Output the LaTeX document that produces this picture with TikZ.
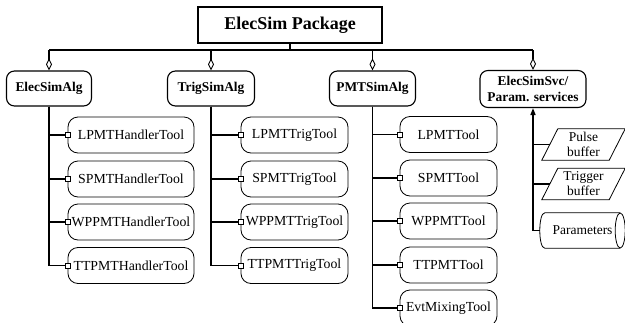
\documentclass[tikz,border=0pt]{standalone}
\usepackage{fontspec}
\setmainfont{Liberation Serif}
\usetikzlibrary{arrows.meta}
\begin{document}
\begin{tikzpicture}[x=1pt,y=-1pt,
  pkgbox/.style={draw,line width=1.2pt,minimum width=184pt,minimum height=36pt,inner sep=0pt,font=\bfseries\fontsize{18}{20}\selectfont},
  modbox/.style={draw,line width=1.1pt,rounded corners=8pt,minimum height=35pt,inner sep=0pt,align=center,font=\bfseries\fontsize{13.4}{15.5}\selectfont},
  toolbox/.style={draw,line width=0.8pt,rounded corners=10pt,minimum height=36pt,inner sep=0pt,font=\fontsize{13.8}{16}\selectfont},
  portbox/.style={draw,fill=white,line width=0.7pt,minimum size=5pt,inner sep=0pt},
  bufbox/.style={minimum width=83pt,minimum height=31pt,inner sep=0pt,align=center,font=\fontsize{13.5}{15}\selectfont},
  cylbox/.style={minimum width=85pt,minimum height=35pt,inner sep=0pt,font=\fontsize{13.5}{15}\selectfont},
  outline/.style={draw,line width=0.8pt},
  link/.style={line width=1.1pt},
  agg/.style={line width=1.1pt,{Diamond[open,length=12pt,width=6pt,line width=0.9pt]}-}
]
\useasboundingbox (0,0) rectangle (625,322);
\clip (0,0) rectangle (625,322);
\node[pkgbox] (pkg) at (290,25) {ElecSim Package};
\coordinate (bus) at (290,50);

\node[modbox,minimum width=85pt] (m1) at (49,88.5) {ElecSimAlg};
\node[modbox,minimum width=87pt] (m2) at (211,88.5) {TrigSimAlg};
\node[modbox,minimum width=86pt] (m3) at (372.5,88.5) {PMTSimAlg};
\node[modbox,minimum width=106pt,minimum height=37pt] (m4) at (533,89) {ElecSimSvc/\\Param. services};

\draw[link] (pkg.south) -- (pkg.south |- bus);
\draw[link] (m1.north |- bus) -- (m4.north |- bus);
\foreach \m in {m1,m2,m3,m4} \draw[agg] (\m.north) -- (\m.north |- bus);

% column 1
\node[toolbox,minimum width=126pt] (a1) at (131,135) {LPMTHandlerTool};
\node[toolbox,minimum width=126pt] (a2) at (131,179) {SPMTHandlerTool};
\node[toolbox,minimum width=126pt] (a3) at (131,222) {WPPMTHandlerTool};
\node[toolbox,minimum width=126pt] (a4) at (131,265.5) {TTPMTHandlerTool};
% column 2
\node[toolbox,minimum width=107pt] (b1) at (294.5,135) {LPMTTrigTool};
\node[toolbox,minimum width=107pt] (b2) at (294.5,179) {SPMTTrigTool};
\node[toolbox,minimum width=107pt] (b3) at (294.5,222) {WPPMTTrigTool};
\node[toolbox,minimum width=107pt] (b4) at (294.5,265.5) {TTPMTTrigTool};
% column 3
\node[toolbox,minimum width=97pt] (c1) at (448.5,134.5) {LPMTTool};
\node[toolbox,minimum width=97pt] (c2) at (448.5,178) {SPMTTool};
\node[toolbox,minimum width=97pt] (c3) at (448.5,221) {WPPMTTool};
\node[toolbox,minimum width=97pt] (c4) at (448.5,265) {TTPMTTool};
\node[toolbox,minimum width=97pt] (c5) at (448.5,308) {EvtMixingTool};

\foreach \t in {a1,a2,a3,a4} \draw[link] (m1.south) |- (\t.west);
\foreach \t in {b1,b2,b3,b4} \draw[link] (m2.south) |- (\t.west);
\foreach \t in {c1,c2,c3,c4,c5} \draw[link] (m3.south) |- (\t.west);
\foreach \t in {a1,a2,a3,a4,b1,b2,b3,b4,c1,c2,c3,c4,c5} \node[portbox] at (\t.west) {};

% services
\node[bufbox] (pb) at (583.5,144.5) {Pulse\\buffer};
\node[bufbox] (tb) at (583.5,184) {Trigger\\buffer};
\foreach \b in {pb,tb}
  \draw[outline] (\b.south west) -- ([xshift=16pt]\b.north west) -- (\b.north east) -- ([xshift=-16pt]\b.south east) -- cycle;
\node[cylbox] (par) at (582.5,230.5) {Parameters};
\draw[outline] ([xshift=-5pt]par.north east) -- ([xshift=5pt]par.north west)
  .. controls ([xshift=-1.67pt]par.north west) and ([xshift=-1.67pt]par.south west) .. ([xshift=5pt]par.south west)
  -- ([xshift=-5pt]par.south east);
\draw[outline] ([xshift=-5pt]par.east) ellipse [x radius=5pt,y radius=17.5pt];
\draw[line width=1.5pt,-{Triangle[length=7pt,width=5pt]}] (par.west) -| (m4.south);
\draw[link] (pb.west -| m4.south) -- ([xshift=8pt]pb.west);
\draw[link] (tb.west -| m4.south) -- ([xshift=8pt]tb.west);
\end{tikzpicture}
\end{document}
